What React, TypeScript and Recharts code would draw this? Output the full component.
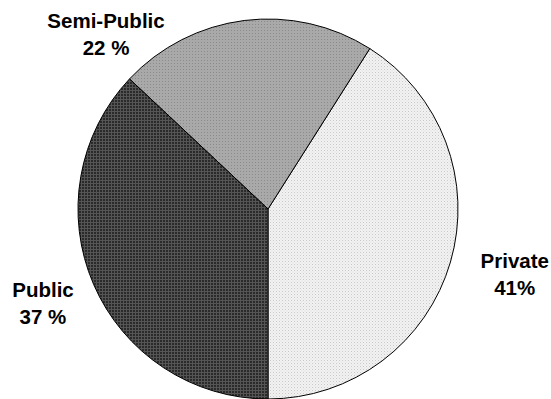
import React from "react";
import { PieChart, Pie, Cell } from "recharts";

const categories = ["Private", "Semi-Public", "Public"];
const values = [41, 22, 37];
const valueLabels = ["41%", "22 %", "37 %"];

const data = categories.map((name, i) => ({ name, value: values[i], label: valueLabels[i] }));

const fills = ["url(#patPrivate)", "url(#patSemi)", "url(#patPublic)"];

// label placement (polar, relative to pie centre): angle in degrees, distance as fraction of radius
const labelPolar: Record<string, { a: number; k: number }> = {
  Private: { a: -13.4, k: 1.335 },
  "Semi-Public": { a: 131.8, k: 1.279 },
  Public: { a: 201.4, k: 1.272 },
};

const RAD = Math.PI / 180;

const renderLabel = (props: any) => {
  const { cx, cy, outerRadius, name, payload } = props;
  const p = labelPolar[name];
  const x = cx + outerRadius * p.k * Math.cos(p.a * RAD);
  const y = cy - outerRadius * p.k * Math.sin(p.a * RAD);
  return (
    <text
      x={x}
      y={y}
      textAnchor="middle"
      fontFamily="'Liberation Sans', Arial, sans-serif"
      fontWeight="bold"
      fontSize={20.5}
      fill="#000"
    >
      <tspan x={x} dy={0}>{name}</tspan>
      <tspan x={x} dy={27}>{payload.label}</tspan>
    </text>
  );
};

export default function App() {
  return (
    <div style={{ position: "absolute", left: 0, top: 0, background: "#fff" }}>
      <PieChart width={551} height={399} margin={{ top: 0, right: 0, bottom: 0, left: 0 }}>
        <defs>
          <pattern id="patPrivate" width="3" height="3" patternUnits="userSpaceOnUse">
            <rect width="3" height="3" fill="#f2f2f2" />
            <rect width="1" height="1" fill="#c8c8c8" />
            <rect x="1.5" y="1.5" width="1" height="1" fill="#dcdcdc" />
          </pattern>
          <pattern id="patSemi" width="3" height="3" patternUnits="userSpaceOnUse">
            <rect width="3" height="3" fill="#a9a9a9" />
            <rect width="1" height="1" fill="#8a8a8a" />
          </pattern>
          <pattern id="patPublic" width="3" height="3" patternUnits="userSpaceOnUse">
            <rect width="3" height="3" fill="#555555" />
            <rect x="1" y="1" width="2" height="2" fill="#2a2a2a" />
          </pattern>
        </defs>
        <Pie
          data={data}
          dataKey="value"
          nameKey="name"
          cx={268}
          cy={209}
          outerRadius={190}
          startAngle={-90}
          endAngle={270}
          stroke="#000"
          strokeWidth={1}
          label={renderLabel}
          labelLine={false}
          isAnimationActive={false}
        >
          {data.map((d, i) => (
            <Cell key={d.name} fill={fills[i]} />
          ))}
        </Pie>
      </PieChart>
    </div>
  );
}
